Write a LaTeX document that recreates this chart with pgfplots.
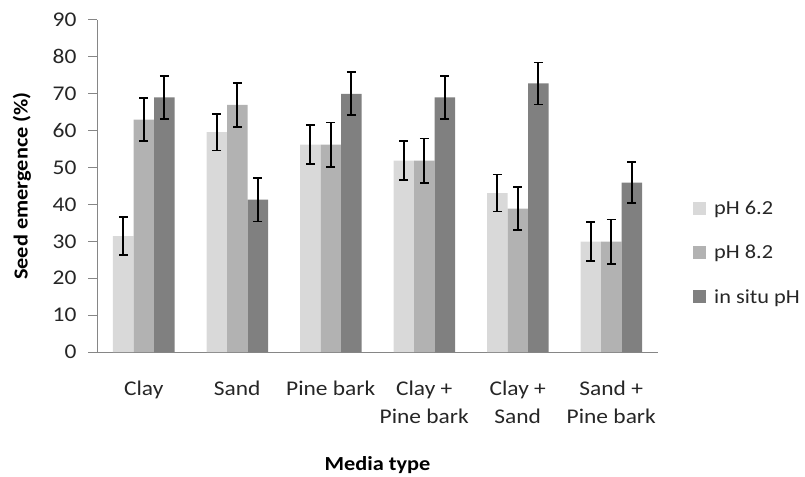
\documentclass[border=0pt]{standalone}
\usepackage{fontspec}
\setmainfont{Carlito}[FakeStretch=1.12]
\usepackage{pgfplots}
\usepackage{pgfplotstable}
\pgfplotsset{compat=1.18}
\definecolor{cA}{HTML}{D9D9D9}
\definecolor{cB}{HTML}{B2B2B2}
\definecolor{cC}{HTML}{808080}
\definecolor{axgray}{HTML}{868686}
\definecolor{txt}{HTML}{262626}
\pgfplotstableread{
x  a     ea   b    eb   c    ec
0  31.4  5.1  63.0 5.8  69.0 5.9
1  59.6  5.0  67.0 6.0  41.3 5.9
2  56.2  5.3  56.2 6.0  70.0 5.8
3  51.9  5.2  51.9 6.0  69.0 5.8
4  43.1  5.0  38.9 5.9  72.8 5.7
5  29.9  5.3  29.9 6.0  45.9 5.6
}\data
\begin{document}
\begin{tikzpicture}
\begin{axis}[
  name=ax,
  scale only axis,
  width=561bp, height=332bp,
  ybar=0pt, bar width=20.5bp,
  xmin=-0.5, xmax=5.5,
  ymin=0, ymax=90,
  ytick={0,10,...,90},
  yticklabel={\pgfmathprintnumber{\tick}\hspace*{8bp}},
  xtick={0,...,5},
  xticklabels={Clay, Sand, Pine bark, {Clay +\\Pine bark}, {Clay +\\Sand}, {Sand +\\Pine bark}},
  axis x line*=bottom, axis y line*=left,
  axis line style={axgray, line width=1bp, -},
  x axis line style={-}, y axis line style={-},
  major x tick style={draw=none},
  major y tick style={axgray, line width=1bp},
  tick align=outside, major tick length=9bp,
  /pgf/number format/assume math mode=true,
  ticklabel style={font=\fontsize{21}{28}\selectfont, text=txt},
  xticklabel style={align=center, anchor=north, inner sep=0pt, yshift=-20bp},
  xlabel={\textbf{Media type}},
  ylabel={\textbf{Seed emergence (\%)}},
  every axis x label/.style={at={(rel axis cs:0.5,0)}, anchor=base, yshift=-118bp, font=\fontsize{20}{23}\selectfont, text=black},
  every axis y label/.style={at={(rel axis cs:0,0.5)}, xshift=-75bp, rotate=90, anchor=center, font=\fontsize{20}{23}\selectfont, text=black},
  legend style={draw=none, fill=none, at={(1,0.5)}, anchor=west, xshift=35bp, yshift=-67bp,
     font=\fontsize{20}{24}\selectfont, text=txt, row sep=25bp, inner sep=0pt,
     /tikz/every odd column/.append style={column sep=6bp}},
  legend cell align=left,
  legend image code/.code={\fill[#1] (0bp,-6bp) rectangle (13bp,7bp);},
  error bars/y dir=both, error bars/y explicit,
  error bars/error bar style={black, line width=1.8bp},
  error bars/error mark options={black, rotate=90, mark size=4.3bp, line width=1.8bp},
]
\addplot[fill=cA, draw=none] table[x=x, y=a, y error=ea]{\data};
\addplot[fill=cB, draw=none] table[x=x, y=b, y error=eb]{\data};
\addplot[fill=cC, draw=none] table[x=x, y=c, y error=ec]{\data};
\legend{pH 6.2, pH 8.2, in situ pH}
\end{axis}
\path[use as bounding box] ([xshift=-97bp,yshift=-123bp]ax.south west) rectangle ([xshift=147bp,yshift=20bp]ax.north east);
\end{tikzpicture}
\end{document}
